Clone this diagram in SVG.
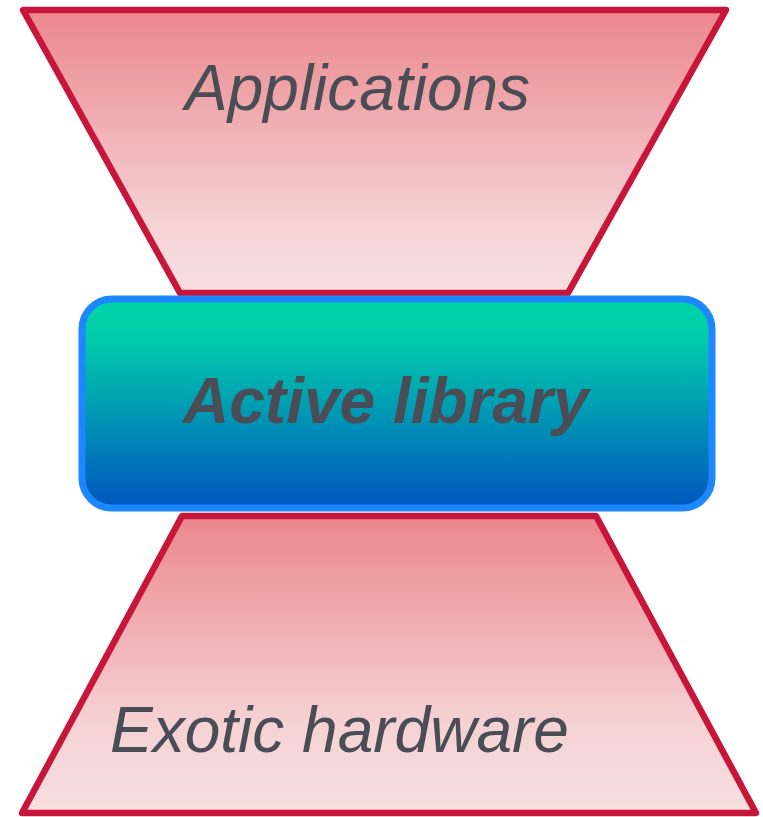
<svg xmlns="http://www.w3.org/2000/svg" width="763" height="817" viewBox="0 0 763 817">
<defs>
<linearGradient id="gTop" x1="0" y1="0" x2="0" y2="1">
<stop offset="0" stop-color="#eb878c"/>
<stop offset="0.75" stop-color="#f5d2d4"/>
<stop offset="1" stop-color="#f8dfe0"/>
</linearGradient>
<linearGradient id="gBot" x1="0" y1="0" x2="0" y2="1">
<stop offset="0" stop-color="#eb878c"/>
<stop offset="0.7" stop-color="#f5d2d4"/>
<stop offset="1" stop-color="#f8dfe0"/>
</linearGradient>
<linearGradient id="gMid" x1="0" y1="0" x2="0" y2="1">
<stop offset="0" stop-color="#00d4a8"/>
<stop offset="0.2" stop-color="#00cbab"/>
<stop offset="1" stop-color="#0055bf"/>
</linearGradient>
<style>
.trap{stroke:#c8163a;stroke-width:6.5;stroke-linejoin:round}
.lbl{font-family:"Liberation Sans",Arial,sans-serif;font-style:italic;font-size:64px;fill:#4a4d55}
</style>
</defs>
<g id="applications">
<polygon class="trap" fill="url(#gTop)" points="23,10 726,10 568,293 180,293"/>
<text class="lbl" x="185" y="110">Applications</text>
</g>
<g id="hardware">
<polygon class="trap" fill="url(#gBot)" points="182,516 596,516 756,813 22,813"/>
<text class="lbl" x="110" y="752" font-size="63.5">Exotic hardware</text>
</g>
<g id="active-library">
<rect x="82" y="299" width="630" height="209" rx="30" fill="url(#gMid)" stroke="#1c87ff" stroke-width="7"/>
<text class="lbl" x="183" y="423" font-weight="bold" font-size="64">Active library</text>
</g>
<g id="connectors"/>
</svg>
